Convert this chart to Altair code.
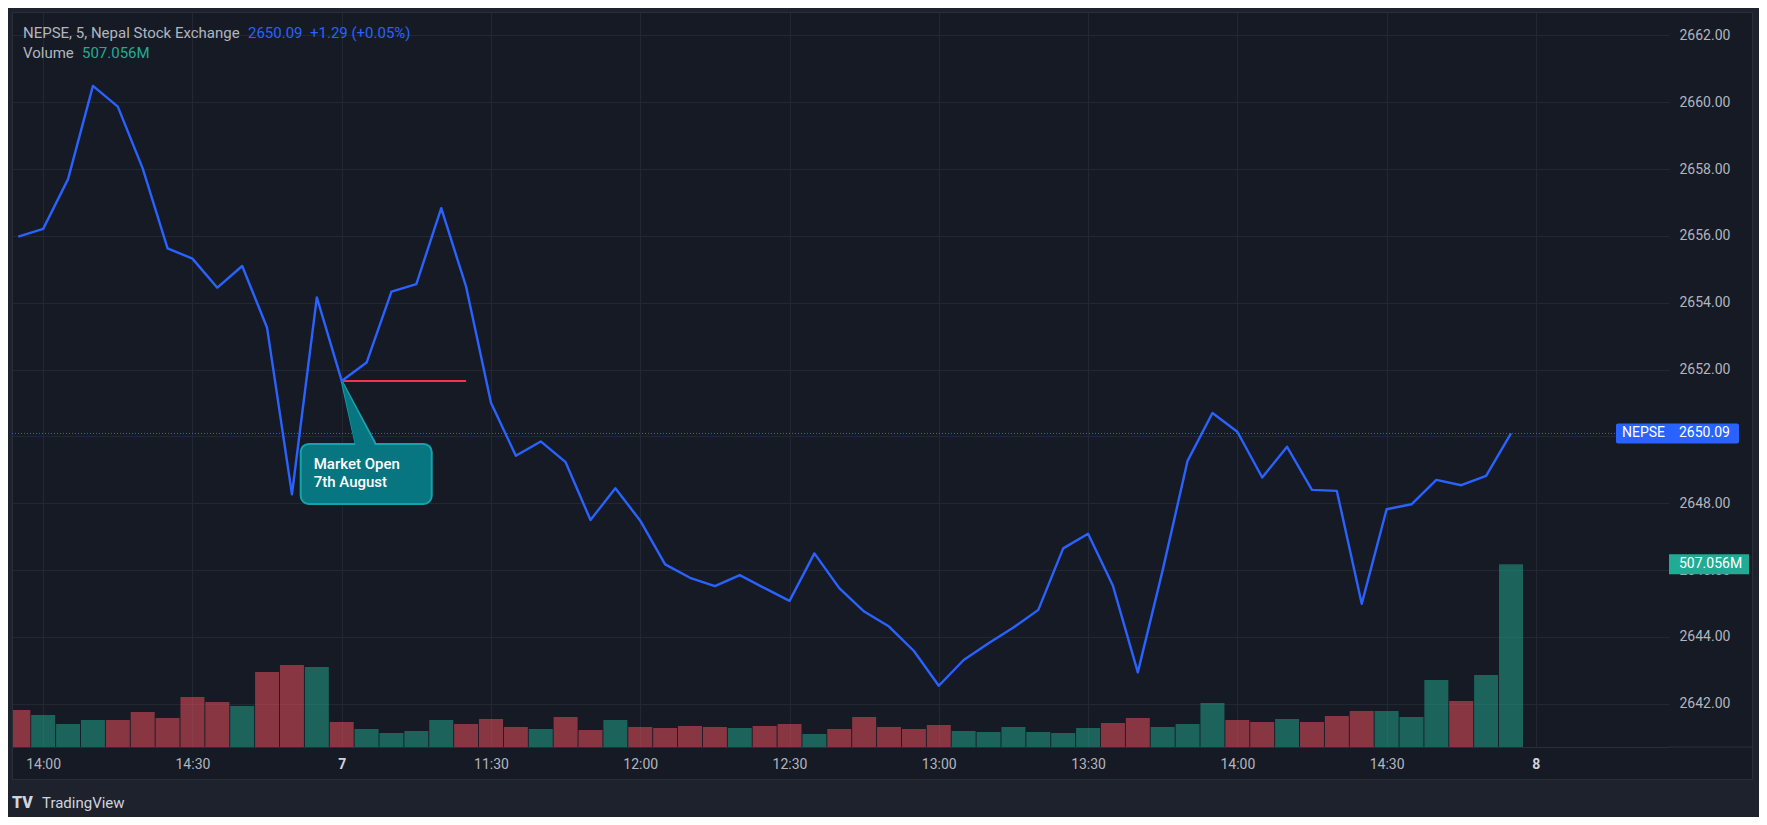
import altair as alt
import pandas as pd

# ---------------- data ----------------
# 5-minute closes: 6 Aug 13:55..14:55, then 7 Aug 11:00..14:55
price_day6 = [2655.98, 2656.21, 2657.70, 2660.49, 2659.87, 2658.02, 2655.63,
              2655.32, 2654.45, 2655.10, 2653.25, 2648.27, 2654.16]
price_day7 = [2651.66, 2652.21, 2654.33, 2654.56, 2656.83, 2654.48, 2651.01,
              2649.42, 2649.85, 2649.23, 2647.50, 2648.45, 2647.48, 2646.17,
              2645.77, 2645.52, 2645.85, 2645.46, 2645.08, 2646.50, 2645.46,
              2644.76, 2644.31, 2643.58, 2642.54, 2643.31, 2643.81, 2644.28,
              2644.81, 2646.65, 2647.09, 2645.53, 2642.94, 2646.00, 2649.27,
              2650.70, 2650.14, 2648.77, 2649.69, 2648.40, 2648.37, 2644.99,
              2647.82, 2647.97, 2648.70, 2648.54, 2648.82, 2650.09]
# volume in millions
vol_day6 = [102.7, 88.8, 63.8, 74.9, 74.9, 97.1, 80.5, 138.8, 124.9, 113.8,
            208.1, 227.6, 222.0]
vol_day7 = [69.4, 50.0, 38.9, 44.4, 74.9, 63.8, 77.7, 55.5, 50.0, 83.3, 47.2, 74.9,
            55.5, 52.7, 58.3, 55.5, 52.7, 58.3, 63.8, 36.1, 50.0, 83.3, 55.5, 50.0,
            61.1, 44.4, 41.6, 55.5, 41.6, 38.9, 52.7, 66.6, 80.5, 55.5, 63.8, 122.1,
            74.9, 69.4, 77.7, 69.4, 86.0, 99.9, 99.9, 83.3, 185.9, 127.7, 199.8, 507.056]
# 1 = green (up) volume bar, 0 = red (down)
up_day6 = [0, 1, 1, 1, 0, 0, 0, 0, 0, 1, 0, 0, 1]
up_day7 = [0, 1, 1, 1, 1, 0, 0, 0, 1, 0, 0, 1,
           0, 0, 0, 0, 1, 0, 0, 1, 0, 0, 0, 0,
           0, 1, 1, 1, 1, 1, 1, 0, 0, 1, 1, 1,
           0, 0, 1, 0, 0, 0, 1, 1, 1, 0, 1, 1]

tick_idx = [1, 7, 13, 19, 25, 31, 37, 43, 49, 55, 61]
tick_labels = ["14:00", "14:30", "7", "11:30", "12:00", "12:30", "13:00",
               "13:30", "14:00", "14:30", "8"]
day_labels = ["7", "8"]
price_ticks = [2642, 2644, 2646, 2648, 2650, 2652, 2654, 2656, 2658, 2660, 2662]

header_title = "NEPSE, 5, Nepal Stock Exchange"
header_change = "+1.29 (+0.05%)"
callout_lines = ["Market Open", "7th August"]
open_index = 13       # first bar of 7 August (11:00)
open_line_end = 18    # red level line runs to 11:25

# ---------------- frame ----------------
prices = price_day6 + price_day7
vols = vol_day6 + vol_day7
ups = up_day6 + up_day7
df = pd.DataFrame({"i": list(range(len(prices))), "price": prices, "vol": vols,
                   "dir": ["up" if u else "down" for u in ups]})
last_df = df.tail(1).copy()
last_df["vlabel"] = last_df["vol"].map(lambda v: f"{v:.3f}M")
open_df = pd.DataFrame({"i": [open_index], "i2": [open_line_end],
                        "price": [prices[open_index]]})
one = pd.DataFrame({"k": [0]})

BG_IN = "#161a25"
BG_OUT = "#1e222d"
GRID = "#232733"
BORDER = "#2a2e39"
TXT = "#b2b5be"
BLUE = "#2962ff"
GREEN = "#22ab94"
RED = "#f7525f"
TEAL = "#077681"
TEAL_B = "#13a3ad"
FONT = "Roboto"

W, H = 1657, 735

xscale = alt.Scale(domain=[-0.052, 66.15], nice=False, zero=False)
pscale = alt.Scale(domain=[2640.707, 2662.70], nice=False, zero=False)
vscale = alt.Scale(domain=[0, 2039.9], nice=False, zero=True)

label_expr = " : ".join(f"datum.value == {i} ? '{l}'" for i, l in zip(tick_idx, tick_labels)) + " : ''"
bold_test = " || ".join(f"datum.value == {i}" for i, l in zip(tick_idx, tick_labels) if l in day_labels)

xaxis = alt.Axis(values=tick_idx, labelExpr=label_expr, title=None, grid=True,
                 gridColor=GRID, gridWidth=1, ticks=False, domain=True,
                 domainColor=BORDER, labelFont=FONT, labelFontSize=14,
                 labelColor={"condition": {"test": bold_test, "value": "#d1d4dc"}, "value": TXT},
                 labelFontWeight={"condition": {"test": bold_test, "value": "bold"}, "value": "normal"},
                 labelPadding=10, labelFlush=False, labelOverlap=False)
yaxis = alt.Axis(orient="right", values=price_ticks, format=".2f", title=None,
                 grid=True, gridColor=GRID, gridWidth=1, ticks=False, domain=False,
                 labelColor=TXT, labelFont=FONT, labelFontSize=14, labelPadding=10)

x_enc = alt.X("i:Q", scale=xscale, axis=xaxis)
y_enc = alt.Y("price:Q", scale=pscale, axis=yaxis)
v_enc = alt.Y("vol:Q", scale=vscale, axis=None)


def vrect(x, x2, y, y2, **kw):
    return alt.Chart(one).mark_rect(**kw).encode(
        x=alt.value(x), x2=alt.value(x2), y=alt.value(y), y2=alt.value(y2))


def vtext(txt, x, y, **kw):
    return alt.Chart(one).mark_text(align="left", baseline="middle", font=FONT, **kw).encode(
        x=alt.value(x), y=alt.value(y), text=alt.value(txt))


# ---------------- volume pane ----------------
bars = alt.Chart(df).mark_bar(width=24, clip=True, opacity=0.5).encode(
    x=x_enc, y=v_enc,
    color=alt.Color("dir:N", scale=alt.Scale(domain=["down", "up"], range=[RED, GREEN]), legend=None))
vbox = alt.Chart(last_df).mark_rect(color=GREEN, yOffset=-10, y2Offset=10).encode(
    x=alt.value(W), x2=alt.value(W + 80), y=v_enc, y2="vol")
vbox_txt = alt.Chart(last_df).mark_text(align="left", baseline="middle", font=FONT,
                                        fontSize=14, color="white").encode(
    x=alt.value(W + 10), y=v_enc, text="vlabel:N")
vol_layer = alt.layer(bars, vbox, vbox_txt)

# ---------------- price pane ----------------
strips = [
    vrect(-4, 1747, -4, 0, color=BG_OUT),
    vrect(-4, 0, -4, 805, color=BG_OUT),
    vrect(1741, 1747, -4, 805, color=BG_OUT),
    vrect(-4, 1747, 768, 805, color=BG_OUT),
    vrect(0.5, 1740.5, 0.5, 767.5, fillOpacity=0, stroke=BORDER, strokeWidth=1),
    alt.Chart(one).mark_rule(color=BORDER, strokeWidth=1).encode(
        x=alt.value(W), x2=alt.value(1741), y=alt.value(H)),
]

dotted = alt.Chart(last_df).mark_rule(color=BLUE, strokeWidth=1, strokeDash=[1, 2]).encode(
    x=alt.value(0), x2=alt.value(1604), y=y_enc)

tri_shape = "M0,0L0.222,1L0.54,1Z"
tri_fill = "M0,0L0.222,1.05L0.54,1.05Z"
tri = alt.Chart(open_df).mark_point(shape=tri_shape, size=15876, filled=True, opacity=1,
                                    fill=TEAL, stroke=TEAL_B, strokeWidth=2,
                                    strokeJoin="round").encode(x=x_enc, y=y_enc)
box = alt.Chart(open_df).mark_rect(xOffset=-41, x2Offset=90, yOffset=63, y2Offset=123,
                                   cornerRadius=8, fill=TEAL, stroke=TEAL_B,
                                   strokeWidth=2).encode(x=x_enc, x2="i", y=y_enc, y2="price")
tri2 = alt.Chart(open_df).mark_point(shape=tri_fill, size=15500, filled=True, opacity=1,
                                     fill=TEAL, strokeWidth=0).encode(x=x_enc, y=y_enc)
ctext1 = alt.Chart(open_df).mark_text(align="left", baseline="middle", font=FONT, fontSize=15,
                                      fontWeight=500, color="white", xOffset=-28,
                                      yOffset=83).encode(x=x_enc, y=y_enc,
                                                         text=alt.value(callout_lines[0]))
ctext2 = alt.Chart(open_df).mark_text(align="left", baseline="middle", font=FONT, fontSize=15,
                                      fontWeight=500, color="white", xOffset=-28,
                                      yOffset=101).encode(x=x_enc, y=y_enc,
                                                          text=alt.value(callout_lines[1]))

red_line = alt.Chart(open_df).mark_rule(color="#f23645", strokeWidth=2).encode(
    x=x_enc, x2="i2", y=y_enc)

line = alt.Chart(df).mark_line(color=BLUE, strokeWidth=2.4, strokeJoin="round").encode(
    x=x_enc, y=y_enc)

pbox = alt.Chart(last_df).mark_rect(color=BLUE, yOffset=-10, y2Offset=10, cornerRadius=2).encode(
    x=alt.value(1604), x2=alt.value(1727), y=y_enc, y2="price")
pbox_name = alt.Chart(last_df).mark_text(align="left", baseline="middle", font=FONT,
                                         fontSize=14, color="white").encode(
    x=alt.value(1610), y=y_enc, text=alt.value("NEPSE"))
pbox_val = alt.Chart(last_df).mark_text(align="left", baseline="middle", font=FONT,
                                        fontSize=14, color="white").encode(
    x=alt.value(1667), y=y_enc, text=alt.Text("price:Q", format=".2f"))

last_price = f"{prices[-1]:.2f}"
last_vol = f"{vols[-1]:.3f}M"
header = [
    vtext(header_title, 11, 21, fontSize=15, color=TXT),
    vtext(last_price, 236, 21, fontSize=15, color=BLUE),
    vtext(header_change, 298, 21, fontSize=15, color=BLUE),
    vtext("Volume", 11, 41, fontSize=15, color=TXT),
    vtext(last_vol, 70, 41, fontSize=15, color=GREEN),
    vtext("TV", 0, 791, fontSize=16, fontWeight=900, color="#d1d4dc"),
    vtext("TradingView", 30, 791, fontSize=15, color="#d1d4dc"),
]

price_layer = alt.layer(*strips, dotted, tri, box, tri2, ctext1, ctext2, red_line, line,
                        pbox, pbox_name, pbox_val, *header)

chart = alt.layer(vol_layer, price_layer).resolve_scale(y="independent").properties(
    width=W, height=H, padding={"left": 0, "top": 0, "right": 0, "bottom": 0},
    background=BG_IN,
).configure_view(strokeWidth=0)

chart.save("out.html", embed_options={"renderer": "svg", "actions": False})
